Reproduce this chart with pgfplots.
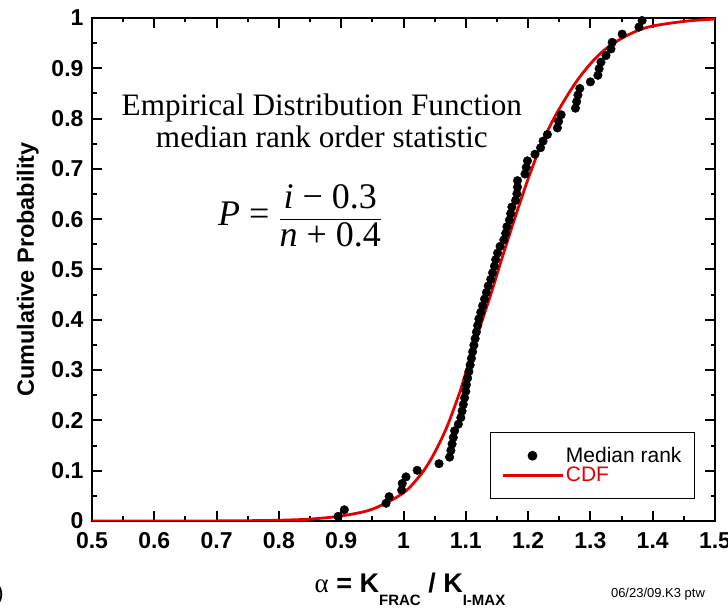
\documentclass[border=0pt]{standalone}
\usepackage{amsmath}
\usepackage{fontspec}
\setmainfont{Liberation Sans}
\newfontfamily\timesfont{Liberation Serif}
\usepackage{pgfplots}
\pgfplotsset{compat=1.18}
\definecolor{cdfred}{RGB}{228,0,0}
\pgfplotsset{
  dotlegend/.style={legend image code/.code={\draw[mark repeat=2, mark phase=2, ##1]
    plot coordinates {(0pt,0pt) (30pt,0pt) (60pt,0pt)};}},
  linelegend/.style={legend image code/.code={\draw[##1] (0pt,0pt) -- (60pt,0pt);}},
}

\begin{document}
\begin{tikzpicture}
\begin{axis}[
  scale only axis,
  width=623pt, height=503pt,
  xmin=0.5, xmax=1.5, ymin=0, ymax=1,
  xtick={0.5,0.6,0.7,0.8,0.9,1,1.1,1.2,1.3,1.4,1.5},
  xticklabels={0.5,0.6,0.7,0.8,0.9,1,1.1,1.2,1.3,1.4,1.5},
  ytick={0,0.1,0.2,0.3,0.4,0.5,0.6,0.7,0.8,0.9,1},
  yticklabels={0,0.1,0.2,0.3,0.4,0.5,0.6,0.7,0.8,0.9,1},
  minor x tick num=1, minor y tick num=1,
  tick align=inside,
  major tick length=10pt, minor tick length=4.5pt,
  every tick/.style={black, line width=2pt},
  axis line style={line width=2.6pt},
  tick label style={font=\bfseries\fontsize{23}{23}\selectfont},
  xticklabel style={yshift=-8pt},
  yticklabel style={xshift=-5pt},
  ylabel={Cumulative Probability},
  ylabel style={at={(axis description cs:-0.103,0.5)}, anchor=center,
    font=\bfseries\fontsize{23.5}{23.5}\selectfont},
  legend cell align=left,
  legend style={at={(rel axis cs:0.968,0.044)}, anchor=south east,
    draw=black, line width=1.2pt, inner xsep=11pt, inner ysep=13pt,
    row sep=-1pt, font=\fontsize{21}{21}\selectfont},
]
% median rank points, P = (i-0.3)/(n+0.4), n = 76
\addplot[only marks, mark=*, mark size=4.3pt, black, dotlegend]
  coordinates {
  (0.895,0.0092)(0.905,0.0223)(0.972,0.0353)(0.977,0.0484)(0.997,0.0615)
  (0.998,0.0746)(1.004,0.0877)(1.022,0.1008)(1.057,0.1139)(1.074,0.1270)
  (1.076,0.1401)(1.078,0.1531)(1.080,0.1662)(1.082,0.1793)(1.088,0.1924)
  (1.092,0.2055)(1.094,0.2186)(1.096,0.2317)(1.098,0.2448)(1.100,0.2579)
  (1.101,0.2709)(1.103,0.2840)(1.105,0.2971)(1.107,0.3102)(1.109,0.3233)
  (1.111,0.3364)(1.113,0.3495)(1.115,0.3626)(1.117,0.3757)(1.119,0.3887)
  (1.121,0.4018)(1.124,0.4149)(1.127,0.4280)(1.130,0.4411)(1.133,0.4542)
  (1.136,0.4673)(1.140,0.4804)(1.143,0.4935)(1.146,0.5065)(1.148,0.5196)
  (1.151,0.5327)(1.155,0.5458)(1.161,0.5589)(1.164,0.5720)(1.166,0.5851)
  (1.170,0.5982)(1.172,0.6113)(1.174,0.6243)(1.180,0.6374)(1.182,0.6505)
  (1.183,0.6636)(1.183,0.6767)(1.195,0.6898)(1.197,0.7029)(1.199,0.7160)
  (1.211,0.7291)(1.220,0.7421)(1.224,0.7552)(1.231,0.7683)(1.247,0.7814)
  (1.249,0.7945)(1.253,0.8076)(1.276,0.8207)(1.278,0.8338)(1.280,0.8469)
  (1.283,0.8599)(1.300,0.8730)(1.312,0.8861)(1.314,0.8992)(1.317,0.9123)
  (1.325,0.9254)(1.333,0.9385)(1.335,0.9516)(1.351,0.9680)(1.378,0.9820)
  (1.383,0.9950)
};
\addlegendentry{Median rank}
% fitted CDF
\addplot[cdfred, line width=2.8pt, smooth, no marks, linelegend]
  coordinates {
  (0.50,0.0000)(0.60,0.0000)(0.70,0.0002)(0.75,0.0006)(0.80,0.0015)
  (0.85,0.0038)(0.90,0.0100)(0.95,0.0235)(1.00,0.0560)(1.03,0.0960)
  (1.05,0.1360)(1.07,0.1880)(1.09,0.2550)(1.10,0.2950)(1.12,0.3750)
  (1.14,0.4500)(1.16,0.5300)(1.18,0.6070)(1.20,0.6800)(1.22,0.7450)
  (1.24,0.7970)(1.26,0.8400)(1.28,0.8780)(1.30,0.9090)(1.32,0.9340)
  (1.34,0.9520)(1.36,0.9660)(1.38,0.9770)(1.40,0.9840)(1.43,0.9900)
  (1.46,0.9945)(1.50,0.9980)
};
\addlegendentry{\textcolor{cdfred}{CDF}}

\node[align=center, font=\timesfont\fontsize{31.2}{32}\selectfont]
  at (axis cs:0.869,0.795)
  {Empirical Distribution Function\\median rank order statistic};
\node[font=\timesfont\fontsize{36}{40}\selectfont] at (axis cs:0.834,0.606)
  {$\text{\textit{P} = }\dfrac{\text{\textit{i} − 0.3}}{\text{\textit{n} + 0.4}}$};
\end{axis}

\node[anchor=base, inner sep=0pt] at (318pt,-71pt)
  {{\timesfont\fontsize{27}{27}\selectfont α}\fontsize{27}{27}\selectfont\bfseries{}
   = K\raisebox{-13pt}{\fontsize{15}{15}\selectfont FRAC} / K\raisebox{-13pt}{\fontsize{15}{15}\selectfont I-MAX}};
\node[anchor=base, inner sep=0pt, font=\fontsize{13}{13}\selectfont] at (566pt,-76pt)
  {06/23/09.K3 ptw};
\node[anchor=east, inner sep=0pt, font=\fontsize{22}{22}\selectfont] at (-88pt,-74pt) {)};

\pgfresetboundingbox
\path[use as bounding box] (-92pt,-89pt) rectangle (636pt,521pt);
\end{tikzpicture}
\end{document}
